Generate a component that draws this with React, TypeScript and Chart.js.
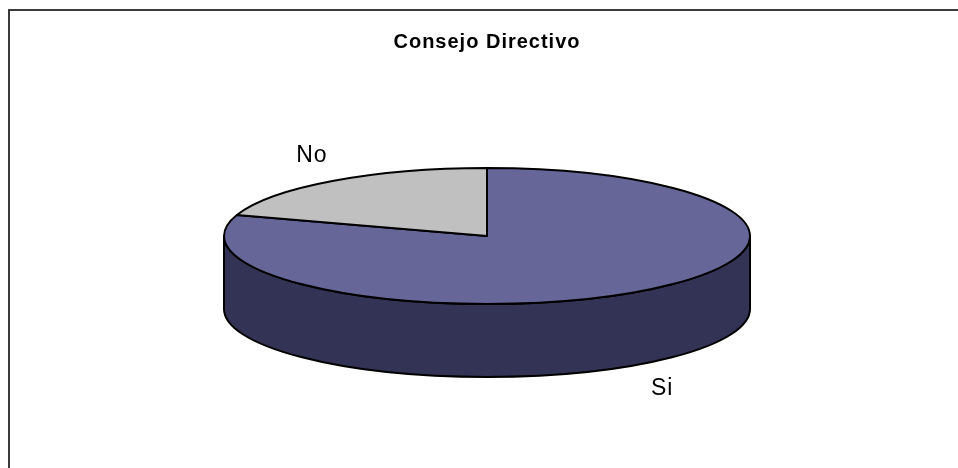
import React, { useEffect, useRef } from "react";
import { Chart, registerables } from "chart.js";

Chart.register(...registerables);

const TITLE = "Consejo Directivo";
const CATEGORIES = ["Si", "No"];
const VALUES = [80, 20];
const TOP_COLORS = ["#666699", "#C0C0C0"];
const SIDE_COLORS = ["#333356", "#808080"];

const W = 958;
const H = 468;
const RX_FACTOR = 263 / 132;
const RY_FACTOR = 68 / 132;
const DEPTH_FACTOR = 73 / 132;
const FONT = "'Liberation Sans', Arial, sans-serif";

const pie3d = {
  id: "pie3d",
  beforeDraw(chart: any) {
    const ctx = chart.ctx;
    ctx.save();
    ctx.fillStyle = "#fff";
    ctx.fillRect(0, 0, W, H);
    ctx.fillStyle = "#3a3a3a";
    ctx.fillRect(8, 9, W - 8, 2);
    ctx.fillRect(8, 9, 2, H - 9);
    ctx.restore();
    // slightly wide text tracking for the title drawn next by the title plugin
    ctx.letterSpacing = "1px";
  },
  beforeDatasetsDraw(chart: any) {
    const ctx = chart.ctx;
    const meta = chart.getDatasetMeta(0);
    const els = meta.data as any[];
    ctx.save();
    ctx.lineWidth = 2;
    ctx.strokeStyle = "#000";
    ctx.lineJoin = "round";
    // walls
    els.forEach((el, i) => {
      const cx = el.x, cy = el.y, r = el.outerRadius;
      const rx = r * RX_FACTOR, ry = r * RY_FACTOR, d = r * DEPTH_FACTOR;
      const s = Math.max(el.startAngle, 0);
      const e = Math.min(el.endAngle, Math.PI);
      if (e <= s) return;
      ctx.beginPath();
      ctx.ellipse(cx, cy, rx, ry, 0, s, e, false);
      ctx.lineTo(cx + rx * Math.cos(e), cy + d + ry * Math.sin(e));
      ctx.ellipse(cx, cy + d, rx, ry, 0, e, s, true);
      ctx.closePath();
      ctx.fillStyle = SIDE_COLORS[i];
      ctx.fill();
      ctx.stroke();
    });
    // tops
    els.forEach((el, i) => {
      const cx = el.x, cy = el.y, r = el.outerRadius;
      const rx = r * RX_FACTOR, ry = r * RY_FACTOR;
      ctx.beginPath();
      ctx.moveTo(cx, cy);
      ctx.ellipse(cx, cy, rx, ry, 0, el.startAngle, el.endAngle, false);
      ctx.closePath();
      ctx.fillStyle = TOP_COLORS[i];
      ctx.fill();
      ctx.stroke();
    });
    ctx.restore();
    return false;
  },
  afterDraw(chart: any) {
    const ctx = chart.ctx;
    const meta = chart.getDatasetMeta(0);
    ctx.save();
    ctx.fillStyle = "#000";
    ctx.font = `23px ${FONT}`;
    ctx.letterSpacing = "1px";
    ctx.textAlign = "center";
    ctx.textBaseline = "middle";
    (meta.data as any[]).forEach((el, i) => {
      const r = el.outerRadius;
      const rx = r * RX_FACTOR, ry = r * RY_FACTOR, d = r * DEPTH_FACTOR;
      const mid = (el.startAngle + el.endAngle) / 2;
      const c = Math.cos(mid), s = Math.sin(mid);
      const x = el.x + (rx + 35) * c;
      const y = el.y + (ry + 31) * s + (s > 0 ? d : 0);
      ctx.fillText(CATEGORIES[i], x, y);
    });
    ctx.restore();
    ctx.letterSpacing = "0px";
  },
};

export default function App() {
  const ref = useRef<HTMLCanvasElement>(null);
  useEffect(() => {
    if (!ref.current) return;
    const chart = new Chart(ref.current, {
      type: "pie",
      data: {
        labels: CATEGORIES,
        datasets: [
          {
            data: VALUES,
            backgroundColor: TOP_COLORS,
            borderWidth: 0,
            hoverOffset: 0,
            offset: 0,
          },
        ],
      },
      options: {
        animation: false,
        responsive: false,
        events: [],
        layout: { padding: { left: 16, right: 0, top: 0, bottom: 100 } },
        plugins: {
          legend: { display: false },
          tooltip: { enabled: false },
          title: {
            display: true,
            text: TITLE,
            color: "#000",
            font: { family: FONT, size: 20, weight: "bold", lineHeight: 1.2 },
            padding: { top: 30, bottom: 50 },
          },
        },
      },
      plugins: [pie3d],
    });
    return () => chart.destroy();
  }, []);
  return (
    <div style={{ position: "fixed", left: 0, top: 0, width: W, height: H, background: "#fff" }}>
      <canvas ref={ref} width={W} height={H} style={{ display: "block" }} />
    </div>
  );
}
